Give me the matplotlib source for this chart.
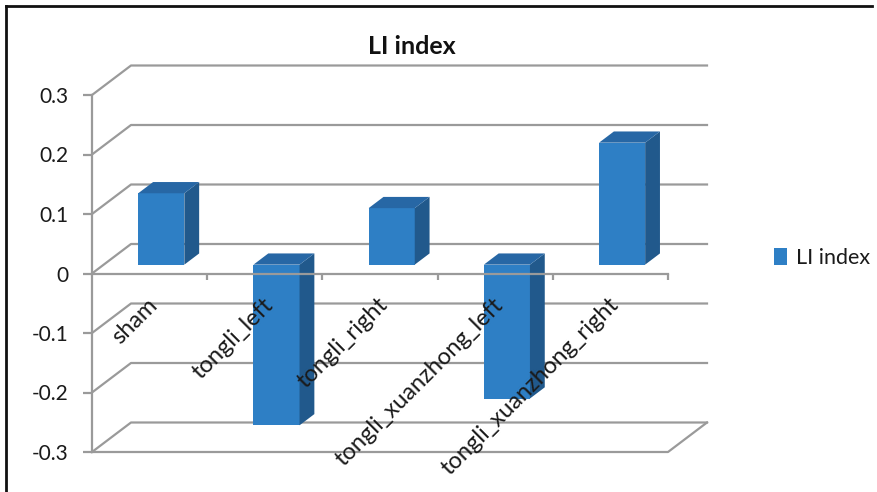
import numpy as np
import matplotlib.pyplot as plt
from matplotlib.patches import Polygon, Rectangle, Patch
from matplotlib.lines import Line2D

# data
categories = ['sham', 'tongli_left', 'tongli_right',
              'tongli_xuanzhong_left', 'tongli_xuanzhong_right']
li_index = [0.12, -0.27, 0.095, -0.225, 0.205]
y_ticks = [-0.3, -0.2, -0.1, 0, 0.1, 0.2, 0.3]
y_labels = ['-0.3', '-0.2', '-0.1', '0', '0.1', '0.2', '0.3']

plt.rcParams['font.family'] = ['Lato', 'DejaVu Sans']

W, H = 878, 492
fig = plt.figure(figsize=(W / 100, H / 100), dpi=100)
ax = fig.add_axes([92 / W, (H - 452) / H, 576 / W, 357 / H])
ax.set_xlim(0, len(categories))
ax.set_ylim(y_ticks[0], y_ticks[-1])

# fake 3d depth in data units
DX = 39 / 576 * len(categories)
DY = 29.5 / 595
grid_c = '#9a9a9a'
front_c = '#2e7fc5'
side_c = '#21598c'
top_c = '#2767a5'
n = len(categories)

# back wall + side wall gridlines
for v in y_ticks:
    ax.plot([0, DX, n + DX], [v, v + DY, v + DY], color=grid_c, lw=1.6,
            clip_on=False, zorder=1)
# floor front edge and right edge
ax.plot([0, n, n + DX], [y_ticks[0], y_ticks[0], y_ticks[0] + DY],
        color=grid_c, lw=1.6, clip_on=False, zorder=1)

# bars
f, d, w = 0.3, 0.38, 0.4
for i, v in enumerate(li_index):
    x0 = i + 0.5 - w / 2 + f * DX
    x1 = x0 + w
    lo = min(v, 0) + f * DY
    hi = max(v, 0) + f * DY
    ax.add_patch(Rectangle((x0, lo), w, hi - lo, facecolor=front_c,
                           edgecolor='none', zorder=3, clip_on=False))
    ax.add_patch(Polygon([(x1, lo), (x1 + d * DX, lo + d * DY),
                          (x1 + d * DX, hi + d * DY), (x1, hi)],
                         facecolor=side_c, edgecolor='none', zorder=3, clip_on=False))
    ax.add_patch(Polygon([(x0, hi), (x1, hi), (x1 + d * DX, hi + d * DY),
                          (x0 + d * DX, hi + d * DY)],
                         facecolor=top_c, edgecolor='none', zorder=3, clip_on=False))

# axes
for s in ['top', 'right']:
    ax.spines[s].set_visible(False)
ax.spines['left'].set_color(grid_c)
ax.spines['left'].set_linewidth(1.6)
ax.spines['bottom'].set_position(('data', 0))
ax.spines['bottom'].set_color(grid_c)
ax.spines['bottom'].set_linewidth(1.6)
ax.spines['bottom'].set_zorder(5)
ax.patch.set_visible(False)

ax.set_yticks(y_ticks)
ax.set_yticklabels(y_labels)
ax.tick_params(axis='y', length=6.5, width=1.6, color=grid_c, pad=10.5,
               labelsize=15, labelcolor='#1a1a1a')
ax.set_xticks(np.arange(1, n + 1))
ax.set_xticklabels([])
ax.tick_params(axis='x', length=4, width=1.6, color=grid_c, direction='out')

for i, name in enumerate(categories):
    ax.text(i + 0.54, -0.047, name, rotation=45, rotation_mode='anchor',
            ha='right', va='center', fontsize=17, color='#1a1a1a', zorder=6)

fig.text(412 / W, 1 - 46 / H, 'LI index', ha='center', va='center',
         fontweight='bold', fontsize=18, color='#111111')

fig.legend(handles=[Patch(facecolor=front_c)], labels=['LI index'],
           loc='center left', bbox_to_anchor=(755 / W, 1 - 258 / H),
           frameon=False, handlelength=0.6, handleheight=0.8,
           handletextpad=0.4, fontsize=15.5, labelcolor='#1a1a1a')

# outer frame
fig.add_artist(Line2D([6 / W, 6 / W], [0, 1 - 6 / H], color='#111111', lw=2,
                      transform=fig.transFigure))
fig.add_artist(Line2D([6 / W, 872 / W], [1 - 6 / H, 1 - 6 / H], color='#111111',
                      lw=2, transform=fig.transFigure))

fig.savefig('out.png', dpi=100)
